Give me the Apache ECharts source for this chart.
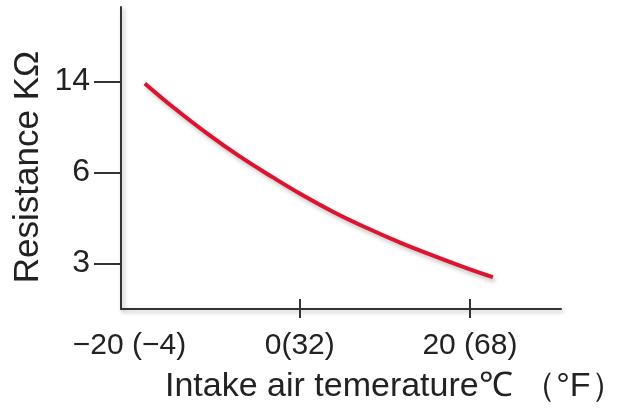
<!DOCTYPE html>
<html>
<head>
<meta charset="utf-8">
<script src="https://cdn.jsdelivr.net/npm/echarts@6/dist/echarts.min.js"></script>
<style>
html,body{margin:0;padding:0;background:#fff;}
#chart{width:630px;height:408px;}
</style>
</head>
<body>
<div id="chart"></div>
<script>
// Intake air temperature (°C) along the curve
const tempC = [-18.2, -14.9, -10.9, -7.1, -3.2, 0, 3.9, 7.9, 11.8, 15.6, 19.6, 22.7];
// Resistance on the chart's schematic (non-linear) resistance scale: 0 = 3 kΩ, 1 = 6 kΩ, 2 = 14 kΩ
const resistanceLevel = [1.98, 1.72, 1.43, 1.18, 0.95, 0.77, 0.57, 0.39, 0.23, 0.09, -0.05, -0.15];
// Tick labels
const xTickValues = [-20, 0, 20];
const xTickLabels = ['−20 (−4)', '0(32)', '20 (68)'];
const yTickValues = [0, 1, 2];
const yTickLabels = ['3', '6', '14'];
const xName = 'Intake air temerature℃ （°F）';
const yName = 'Resistance KΩ';

const chart = echarts.init(document.getElementById('chart'), null, {renderer: 'canvas'});
const font = 'Liberation Sans';
const axisColor = '#333333';
const textColor = '#222222';
const axisShadow = {shadowColor: 'rgba(0,0,0,0.28)', shadowBlur: 4, shadowOffsetX: 2, shadowOffsetY: 2};

chart.setOption({
  animation: false,
  backgroundColor: '#ffffff',
  grid: {left: 121, right: 69, top: 7, bottom: 99, containLabel: false},
  xAxis: [{
    type: 'value', min: -21, max: 30.7, position: 'bottom',
    axisLine: {show: true, onZero: false, lineStyle: Object.assign({color: axisColor, width: 2}, axisShadow)},
    axisTick: {show: true, inside: false, length: 9, customValues: [0, 20], lineStyle: {color: axisColor, width: 2}},
    axisLabel: {
      show: true, customValues: xTickValues, margin: 22,
      formatter: v => xTickLabels[xTickValues.indexOf(v)] || '',
      fontFamily: font, fontSize: 30, color: textColor
    },
    splitLine: {show: false}
  }, {
    type: 'value', min: -21, max: 30.7, position: 'bottom', gridIndex: 0,
    axisLine: {show: false, onZero: false},
    axisTick: {show: true, inside: true, length: 10, customValues: [0, 20], lineStyle: {color: axisColor, width: 2}},
    axisLabel: {show: false},
    splitLine: {show: false}
  }],
  yAxis: {
    type: 'value', min: -0.5, max: 2.82,
    axisLine: {show: true, onZero: false, lineStyle: Object.assign({color: axisColor, width: 2}, axisShadow)},
    axisTick: {show: true, inside: false, length: 27, customValues: yTickValues, lineStyle: {color: axisColor, width: 2}},
    axisLabel: {
      show: true, customValues: yTickValues, margin: 31,
      formatter: v => yTickLabels[yTickValues.indexOf(v)] || '',
      fontFamily: font, fontSize: 32, color: textColor
    },
    splitLine: {show: false}
  },
  graphic: [{
    type: 'text', x: 28, y: 167, rotation: Math.PI / 2,
    style: {text: yName, font: '35px "Liberation Sans"', fill: textColor, align: 'center', verticalAlign: 'middle'}
  }, {
    type: 'text', x: 165, y: 387,
    style: {text: xName, font: '34px "Liberation Sans"', fill: textColor, align: 'left', verticalAlign: 'middle'}
  }],
  series: [{
    type: 'line',
    xAxisIndex: 0,
    data: tempC.map((t, i) => [t, resistanceLevel[i]]),
    smooth: 0.4,
    showSymbol: false,
    lineStyle: {color: '#dc1430', width: 4, shadowColor: 'rgba(0,0,0,0.25)', shadowBlur: 4, shadowOffsetX: 2, shadowOffsetY: 3},
    itemStyle: {color: '#dc1430'}
  }]
});
</script>
</body>
</html>
